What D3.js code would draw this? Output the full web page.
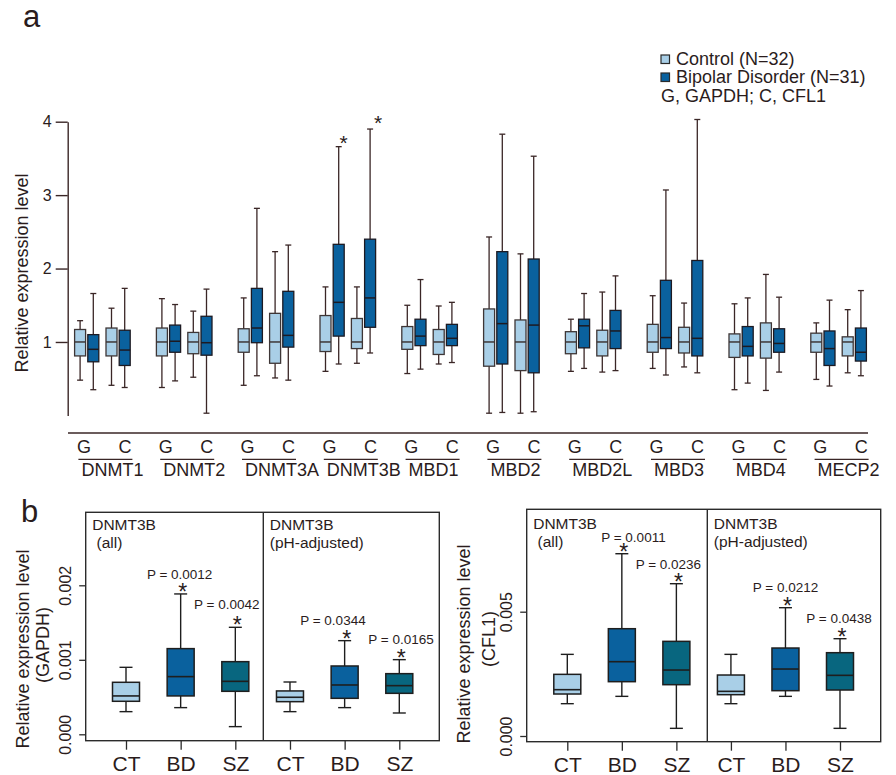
<!DOCTYPE html>
<html>
<head>
<meta charset="utf-8">
<script src="https://cdn.jsdelivr.net/npm/d3@7"></script>
<style>
  body { margin: 0; background: #fff; }
  svg { display: block; }
  text { font-family: "Liberation Sans", Arial, Helvetica, sans-serif; fill: #2a1c1c; }
</style>
</head>
<body>
<svg id="chart" width="896" height="775"></svg>
<script>
// ---------- Panel a: relative expression of methylation genes ----------
const genes = ["DNMT1", "DNMT2", "DNMT3A", "DNMT3B", "MBD1", "MBD2", "MBD2L", "MBD3", "MBD4", "MECP2"];
const refGenes = ["G", "C"];
const groups = ["Control (N=32)", "Bipolar Disorder (N=31)"];
const normNote = "G, GAPDH; C, CFL1";
const yTicksA = [1, 2, 3, 4];

// each entry: [whisker low, Q1, median, Q3, whisker high]
const controlG = [
  [0.48, 0.81, 1.00, 1.17, 1.29], [0.38, 0.81, 1.00, 1.19, 1.59], [0.41, 0.86, 1.00, 1.18, 1.60],
  [0.60, 0.87, 1.00, 1.36, 1.75], [0.57, 0.90, 1.00, 1.21, 1.50], [0.03, 0.67, 1.00, 1.45, 2.43],
  [0.60, 0.84, 1.00, 1.14, 1.31], [0.64, 0.86, 1.00, 1.24, 1.63], [0.35, 0.79, 1.00, 1.11, 1.52],
  [0.49, 0.86, 1.00, 1.12, 1.26]
];
const bipolarG = [
  [0.35, 0.73, 0.90, 1.10, 1.66], [0.47, 0.86, 1.01, 1.23, 1.51], [0.54, 0.99, 1.19, 1.73, 2.82],
  [0.70, 1.08, 1.54, 2.33, 3.66], [0.63, 0.95, 1.08, 1.31, 1.85], [0.04, 0.70, 1.25, 2.23, 3.83],
  [0.64, 0.92, 1.22, 1.31, 1.66], [0.55, 0.91, 1.06, 1.84, 3.07], [0.44, 0.81, 0.94, 1.21, 1.60],
  [0.40, 0.68, 0.91, 1.15, 1.57]
];
const controlC = [
  [0.41, 0.81, 1.00, 1.19, 1.46], [0.52, 0.84, 1.00, 1.13, 1.42], [0.51, 0.71, 1.00, 1.39, 2.23],
  [0.71, 0.91, 1.00, 1.32, 1.75], [0.70, 0.83, 1.00, 1.17, 1.49], [0.03, 0.61, 1.00, 1.30, 2.20],
  [0.59, 0.81, 1.00, 1.16, 1.68], [0.66, 0.85, 1.00, 1.20, 1.53], [0.34, 0.78, 1.00, 1.26, 1.92],
  [0.58, 0.81, 1.00, 1.07, 1.44]
];
const bipolarC = [
  [0.38, 0.68, 0.89, 1.16, 1.73], [0.03, 0.82, 0.99, 1.35, 1.72], [0.48, 0.93, 1.09, 1.69, 2.32],
  [0.85, 1.20, 1.60, 2.40, 3.90], [0.72, 0.95, 1.05, 1.24, 1.54], [0.05, 0.58, 1.23, 2.13, 3.53],
  [0.61, 0.91, 1.15, 1.43, 1.90], [0.58, 0.81, 1.05, 2.11, 4.03], [0.59, 0.86, 0.98, 1.18, 1.61],
  [0.54, 0.74, 0.86, 1.19, 1.70]
];
// significant bipolar vs control comparisons
const significantA = [["DNMT3B", "G"], ["DNMT3B", "C"]];

// ---------- Panel b: DNMT3B by diagnosis ----------
const diagnoses = ["CT", "BD", "SZ"];
const subsetTitles = [["DNMT3B", "\u00a0(all)"], ["DNMT3B", "(pH-adjusted)"]];
const gapdhAll = [
  [0.000304, 0.000443, 0.000515, 0.000698, 0.000899],
  [0.000358, 0.000515, 0.000774, 0.001150, 0.001884],
  [0.000103, 0.000577, 0.000711, 0.000975, 0.001436]
];
const gapdhPH = [
  [0.000304, 0.000438, 0.000497, 0.000582, 0.000702],
  [0.000358, 0.000483, 0.000662, 0.000917, 0.001257],
  [0.000286, 0.000550, 0.000653, 0.000814, 0.001002]
];
const cfl1All = [
  [0.00130, 0.001689, 0.001863, 0.002480, 0.003284],
  [0.001595, 0.002185, 0.002989, 0.004316, 0.007332],
  [0.000308, 0.002064, 0.002654, 0.003807, 0.006126]
];
const cfl1PH = [
  [0.00130, 0.001662, 0.001796, 0.002453, 0.003284],
  [0.001595, 0.001823, 0.002694, 0.003539, 0.005161],
  [0.000308, 0.001850, 0.002440, 0.003351, 0.003914]
];
const pGapdhAll = [null, "0.0012", "0.0042"];
const pGapdhPH = [null, "0.0344", "0.0165"];
const pCfl1All = [null, "0.0011", "0.0236"];
const pCfl1PH = [null, "0.0212", "0.0438"];
const yTicksGapdh = [0, 0.001, 0.002];
const yTicksCfl1 = [0, 0.005];

// ---------- styling ----------
const colControl = "#a9cfe7";
const colBipolar = "#0a619e";
const colSchizo = "#08667f";
const inkLine = "#3a2626";
const inkText = "#2a1c1c";

const svg = d3.select("#chart");

// ===== Panel a =====
const gA = svg.append("g");
gA.append("text").attr("x", 23).attr("y", 27).attr("font-size", 31).text("a");

const yA = d3.scaleLinear().domain([0, 4]).range([415.4, 121.7]);
const xGene = d3.scalePoint().domain(genes).range([102.4, 838.6]);
const xRef = d3.scalePoint().domain(refGenes).range([-15.7, 15.7]);
const xGrp = d3.scalePoint().domain(groups).range([-6.6, 6.6]);

const yAxisA = d3.axisLeft(yA).tickValues(yTicksA).tickFormat(d3.format("d"))
  .tickSize(12).tickSizeOuter(0).tickPadding(4);
const axA = gA.append("g").attr("transform", "translate(67.7,0)").call(yAxisA);
axA.select(".domain").attr("stroke", inkLine).attr("stroke-width", 1.4);
axA.selectAll(".tick line").attr("stroke", inkLine).attr("stroke-width", 1.4);
axA.selectAll(".tick text").attr("font-size", 16).attr("fill", inkText)
  .attr("font-family", "\"Liberation Sans\", Arial, sans-serif");

gA.append("text")
  .attr("transform", "translate(21.7,273) rotate(-90)")
  .attr("text-anchor", "middle").attr("dy", "0.35em").attr("font-size", 18)
  .text("Relative expression level");

// box records
const seriesA = [
  { ref: "G", grp: groups[0], vals: controlG, fill: colControl, stroke: "#3e3636" },
  { ref: "G", grp: groups[1], vals: bipolarG, fill: colBipolar, stroke: "#1d1a22" },
  { ref: "C", grp: groups[0], vals: controlC, fill: colControl, stroke: "#3e3636" },
  { ref: "C", grp: groups[1], vals: bipolarC, fill: colBipolar, stroke: "#1d1a22" }
];
const boxesA = [];
genes.forEach((gene, i) => {
  seriesA.forEach(s => {
    boxesA.push({ gene, ref: s.ref, grp: s.grp, v: s.vals[i], fill: s.fill, stroke: s.stroke,
      x: xGene(gene) + xRef(s.ref) + xGrp(s.grp) });
  });
});

const bwA = 11, capA = 6;
const bA = gA.append("g").selectAll("g").data(boxesA).join("g");
bA.append("line").attr("x1", d => d.x).attr("x2", d => d.x)
  .attr("y1", d => yA(d.v[0])).attr("y2", d => yA(d.v[4]))
  .attr("stroke", inkLine).attr("stroke-width", 1.3);
bA.append("line").attr("x1", d => d.x - capA / 2).attr("x2", d => d.x + capA / 2)
  .attr("y1", d => yA(d.v[4])).attr("y2", d => yA(d.v[4]))
  .attr("stroke", inkLine).attr("stroke-width", 1.3);
bA.append("line").attr("x1", d => d.x - capA / 2).attr("x2", d => d.x + capA / 2)
  .attr("y1", d => yA(d.v[0])).attr("y2", d => yA(d.v[0]))
  .attr("stroke", inkLine).attr("stroke-width", 1.3);
bA.append("rect").attr("x", d => d.x - bwA / 2).attr("width", bwA)
  .attr("y", d => yA(d.v[3])).attr("height", d => yA(d.v[1]) - yA(d.v[3]))
  .attr("fill", d => d.fill).attr("stroke", d => d.stroke).attr("stroke-width", 1.3);
bA.append("line").attr("x1", d => d.x - bwA / 2).attr("x2", d => d.x + bwA / 2)
  .attr("y1", d => yA(d.v[2])).attr("y2", d => yA(d.v[2]))
  .attr("stroke", d => d.stroke).attr("stroke-width", 1.5);

// significance marks (asterisk glyph centre sits ~0.57em above its baseline)
const sigBoxes = boxesA.filter(d => d.grp === groups[1] &&
  significantA.some(s => s[0] === d.gene && s[1] === d.ref));
const sigNudge = { G: [5, -9], C: [8, -10.7] };
const starA = 21;
gA.append("g").selectAll("text").data(sigBoxes).join("text")
  .attr("x", d => d.x + sigNudge[d.ref][0])
  .attr("y", d => yA(d.v[4]) + sigNudge[d.ref][1] + 0.57 * starA)
  .attr("text-anchor", "middle").attr("font-size", starA).text("*");

// category axis below the plot
gA.append("line").attr("x1", 68).attr("x2", 868).attr("y1", 433).attr("y2", 433)
  .attr("stroke", inkLine).attr("stroke-width", 1.4);
const refLabelDx = { G: -18.4, C: 22.6 };
const geneG = gA.append("g").selectAll("g").data(genes).join("g")
  .attr("transform", d => `translate(${xGene(d)},0)`);
refGenes.forEach(r => {
  geneG.append("text").attr("x", refLabelDx[r]).attr("y", 452.7)
    .attr("text-anchor", "middle").attr("font-size", 18).text(r);
});
geneG.append("line").attr("x1", -24).attr("x2", 30).attr("y1", 459.3).attr("y2", 459.3)
  .attr("stroke", inkLine).attr("stroke-width", 1.3);
geneG.append("text").attr("x", -21).attr("y", 475.7).attr("font-size", 18).text(d => d);

// legend
const legA = gA.append("g");
groups.forEach((g, i) => {
  legA.append("rect").attr("x", 661).attr("y", 55 + i * 18).attr("width", 8.5).attr("height", 8.5)
    .attr("fill", i === 0 ? colControl : colBipolar).attr("stroke", "#2a2a2a").attr("stroke-width", 1.2);
  legA.append("text").attr("x", 676).attr("y", 64.5 + i * 18).attr("font-size", 18)
    .attr("fill", "#1a1414").text(g);
});
legA.append("text").attr("x", 661).attr("y", 102).attr("font-size", 18).attr("fill", "#3a2222").text(normNote);

// ===== Panel b =====
svg.append("text").attr("x", 21).attr("y", 521.7).attr("font-size", 31).text("b");

function drawPanelB(cfg) {
  const g = svg.append("g");
  const { x0, x1, y0, y1, xDiv } = cfg.frame;
  const y = d3.scaleLinear().domain(cfg.yDomain).range(cfg.yRange);
  const cats = [];
  [0, 1].forEach(s => diagnoses.forEach(d => cats.push(s + "-" + d)));
  const x = d3.scalePoint().domain(cats).range(cfg.xRange);

  // frame and divider
  g.append("rect").attr("x", x0).attr("y", y0).attr("width", x1 - x0).attr("height", y1 - y0)
    .attr("fill", "none").attr("stroke", "#2b2b2b").attr("stroke-width", 1.4);
  g.append("line").attr("x1", xDiv).attr("x2", xDiv).attr("y1", y0).attr("y2", y1)
    .attr("stroke", "#2b2b2b").attr("stroke-width", 1.4);

  // y axis
  const ax = g.append("g").attr("transform", `translate(${x0},0)`)
    .call(d3.axisLeft(y).tickValues(cfg.yTicks).tickFormat(d3.format(".3f")).tickSize(6.5).tickSizeOuter(0));
  ax.select(".domain").remove();
  ax.selectAll(".tick line").attr("stroke", "#2b2b2b").attr("stroke-width", 1.3);
  ax.selectAll(".tick text")
    .attr("x", 0).attr("y", 0).attr("dy", "0.35em")
    .attr("transform", "translate(-20,0) rotate(-90)")
    .attr("text-anchor", "middle").attr("font-size", 16).attr("fill", inkText)
    .attr("font-family", "\"Liberation Sans\", Arial, sans-serif");

  // x axis
  const axx = g.append("g").attr("transform", `translate(0,${y1})`)
    .call(d3.axisBottom(x).tickFormat(d => d.split("-")[1]).tickSize(9).tickSizeOuter(0).tickPadding(6));
  axx.select(".domain").remove();
  axx.selectAll(".tick line").attr("stroke", "#2b2b2b").attr("stroke-width", 1.3);
  axx.selectAll(".tick text").attr("font-size", 21).attr("fill", "#111")
    .attr("font-family", "\"Liberation Sans\", Arial, sans-serif");

  // y titles
  g.append("text").attr("transform", `translate(${cfg.title1[0]},${cfg.title1[1]}) rotate(-90)`)
    .attr("text-anchor", "middle").attr("dy", "0.35em").attr("font-size", 18)
    .text("Relative expression level");
  g.append("text").attr("transform", `translate(${cfg.title2[0]},${cfg.title2[1]}) rotate(-90)`)
    .attr("text-anchor", "middle").attr("dy", "0.35em").attr("font-size", 18)
    .text(cfg.refName);

  // subset titles
  [x0, xDiv].forEach((xs, s) => {
    g.append("text").attr("x", xs + 6.5).attr("y", cfg.titleY).attr("font-size", 15.5)
      .attr("fill", "#141414").text(subsetTitles[s][0]);
    g.append("text").attr("x", xs + 6.5).attr("y", cfg.titleY + 18.2).attr("font-size", 15.5)
      .attr("fill", "#141414").text(subsetTitles[s][1]);
  });

  // boxes
  const fills = [colControl, colBipolar, colSchizo];
  const recs = [];
  cfg.sets.forEach((set, s) => set.forEach((v, k) => recs.push({
    x: x(s + "-" + diagnoses[k]), v, fill: fills[k], p: cfg.pvals[s][k], nudge: cfg.pNudge[s][k]
  })));
  const bw = 27, cap = 13;
  const bx = g.append("g").selectAll("g").data(recs).join("g");
  bx.append("line").attr("x1", d => d.x).attr("x2", d => d.x)
    .attr("y1", d => y(d.v[0])).attr("y2", d => y(d.v[4]))
    .attr("stroke", "#1e1e1e").attr("stroke-width", 1.4);
  [0, 4].forEach(j => bx.append("line")
    .attr("x1", d => d.x - cap / 2).attr("x2", d => d.x + cap / 2)
    .attr("y1", d => y(d.v[j])).attr("y2", d => y(d.v[j]))
    .attr("stroke", "#1e1e1e").attr("stroke-width", 1.4));
  bx.append("rect").attr("x", d => d.x - bw / 2).attr("width", bw)
    .attr("y", d => y(d.v[3])).attr("height", d => y(d.v[1]) - y(d.v[3]))
    .attr("fill", d => d.fill).attr("stroke", "#1e1e1e").attr("stroke-width", 1.5);
  bx.append("line").attr("x1", d => d.x - bw / 2).attr("x2", d => d.x + bw / 2)
    .attr("y1", d => y(d.v[2])).attr("y2", d => y(d.v[2]))
    .attr("stroke", "#1e1e1e").attr("stroke-width", 1.6);

  // significance
  const starB = 23;
  const sig = bx.filter(d => d.p);
  sig.append("text").attr("x", d => d.x + 2).attr("y", d => y(d.v[4]) - 7 + 0.57 * starB)
    .attr("text-anchor", "middle").attr("font-size", starB).text("*");
  sig.append("text").attr("x", d => d.x + d.nudge[0]).attr("y", d => y(d.v[4]) - 7 + d.nudge[1] + 5)
    .attr("text-anchor", "middle").attr("font-size", 13.5).attr("fill", "#3a2828")
    .text(d => "P = " + d.p);
}

drawPanelB({
  frame: { x0: 85.7, x1: 439.3, y0: 512.3, y1: 740.7, xDiv: 263.3 },
  yDomain: [0, 0.002], yRange: [734.3, 585.3], yTicks: yTicksGapdh,
  xRange: [126, 399.3],
  title1: [23, 649], title2: [43, 645], refName: "(GAPDH)",
  titleY: 529.5,
  sets: [[gapdhAll[0], gapdhAll[1], gapdhAll[2]], [gapdhPH[0], gapdhPH[1], gapdhPH[2]]],
  pvals: [pGapdhAll, pGapdhPH],
  pNudge: [[null, [-1, -13], [-8.6, -16.7]], [null, [-11.7, -13.7], [1.7, -13.4]]]
});

drawPanelB({
  frame: { x0: 526.7, x1: 880.7, y0: 509.3, y1: 741.7, xDiv: 707.3 },
  yDomain: [0, 0.005], yRange: [736, 611.7], yTicks: yTicksCfl1,
  xRange: [567.3, 840],
  title1: [463.3, 644], title2: [488.3, 639], refName: "(CFL1)",
  titleY: 528.5,
  sets: [[cfl1All[0], cfl1All[1], cfl1All[2]], [cfl1PH[0], cfl1PH[1], cfl1PH[2]]],
  pvals: [pCfl1All, pCfl1PH],
  pNudge: [[null, [11.6, -10], [-8, -12.3]], [null, [0, -13.4], [-1, -14]]]
});
</script>
</body>
</html>
